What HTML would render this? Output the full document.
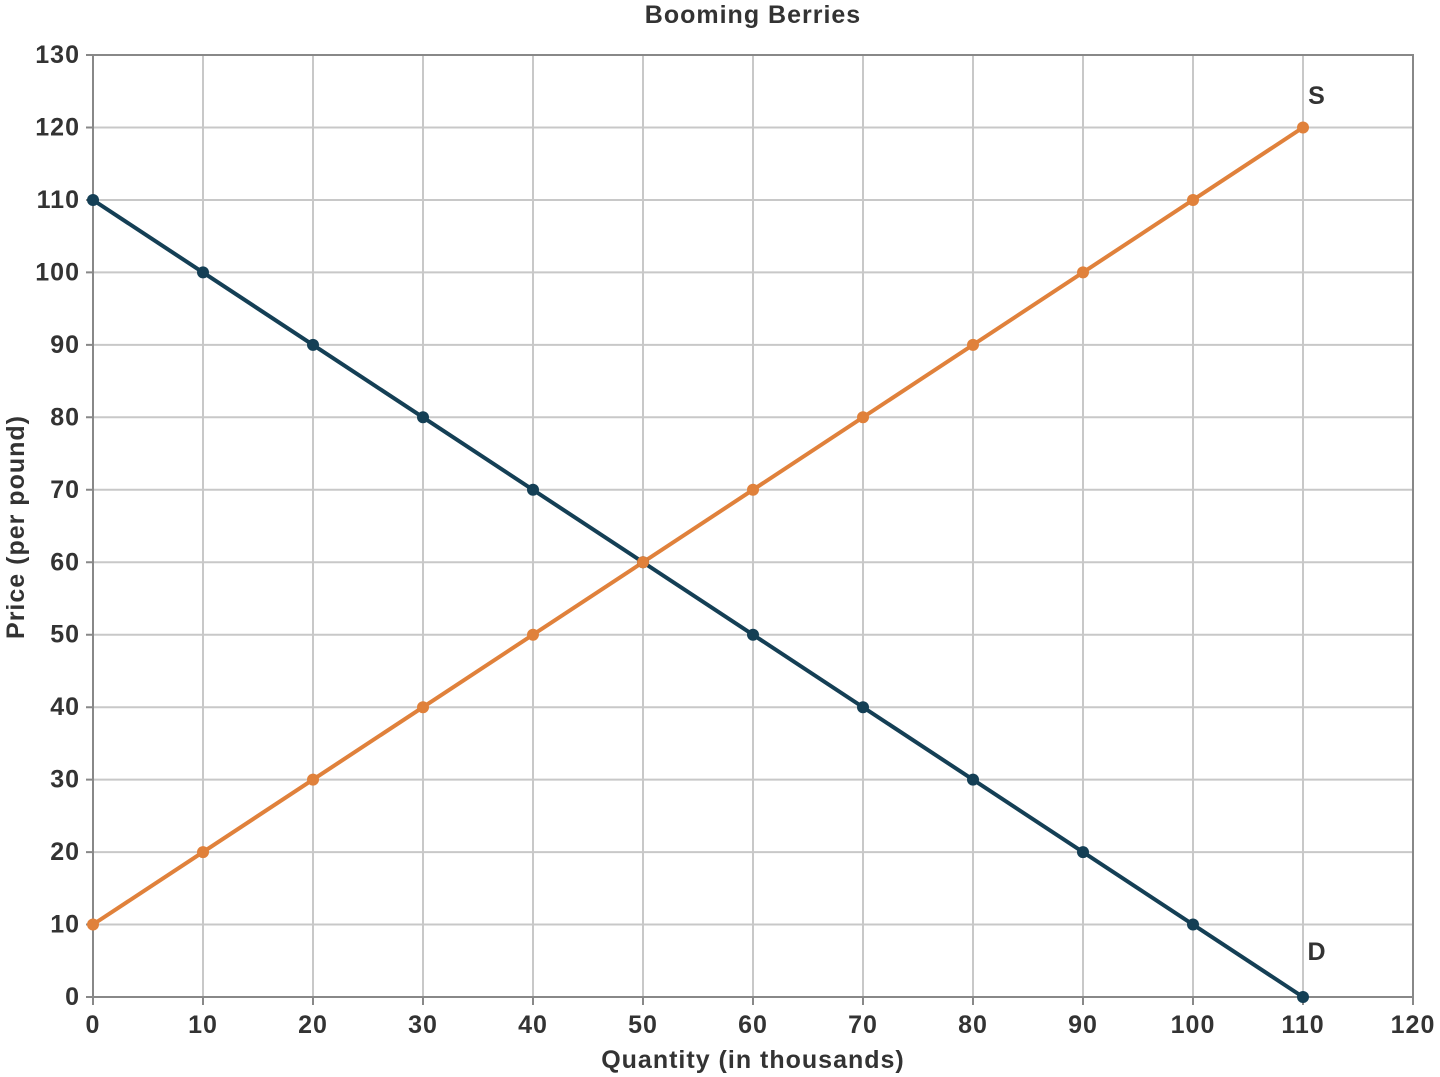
<!DOCTYPE html>
<html><head><style>body{margin:0;background:#fff}svg{display:block}text{font-family:"Liberation Sans",sans-serif;font-weight:bold;fill:#333;letter-spacing:1px}</style></head>
<body>
<svg width="1440" height="1077" viewBox="0 0 1440 1077">
<g stroke="#c8c8c8" stroke-width="2">
<line x1="203" y1="55" x2="203" y2="997"/><line x1="313" y1="55" x2="313" y2="997"/><line x1="423" y1="55" x2="423" y2="997"/><line x1="533" y1="55" x2="533" y2="997"/><line x1="643" y1="55" x2="643" y2="997"/><line x1="753" y1="55" x2="753" y2="997"/><line x1="863" y1="55" x2="863" y2="997"/><line x1="973" y1="55" x2="973" y2="997"/><line x1="1083" y1="55" x2="1083" y2="997"/><line x1="1193" y1="55" x2="1193" y2="997"/><line x1="1303" y1="55" x2="1303" y2="997"/>
<line x1="93" y1="924.5" x2="1413" y2="924.5"/><line x1="93" y1="852.1" x2="1413" y2="852.1"/><line x1="93" y1="779.6" x2="1413" y2="779.6"/><line x1="93" y1="707.2" x2="1413" y2="707.2"/><line x1="93" y1="634.7" x2="1413" y2="634.7"/><line x1="93" y1="562.3" x2="1413" y2="562.3"/><line x1="93" y1="489.8" x2="1413" y2="489.8"/><line x1="93" y1="417.3" x2="1413" y2="417.3"/><line x1="93" y1="344.9" x2="1413" y2="344.9"/><line x1="93" y1="272.4" x2="1413" y2="272.4"/><line x1="93" y1="200" x2="1413" y2="200"/><line x1="93" y1="127.5" x2="1413" y2="127.5"/>
</g>
<g stroke="#888" stroke-width="2" fill="none">
<rect x="93" y="55" width="1320" height="942"/>
<path d="M86 55H93M86 127.5H93M86 200H93M86 272.4H93M86 344.9H93M86 417.3H93M86 489.8H93M86 562.3H93M86 634.7H93M86 707.2H93M86 779.6H93M86 852.1H93M86 924.5H93M86 997H93"/>
<path d="M93 997V1005M203 997V1005M313 997V1005M423 997V1005M533 997V1005M643 997V1005M753 997V1005M863 997V1005M973 997V1005M1083 997V1005M1193 997V1005M1303 997V1005M1413 997V1005"/>
</g>
<polyline points="93,200 1303,997" stroke="#143f55" stroke-width="4" fill="none"/>
<polyline points="93,924.5 1303,127.5" stroke="#e0813b" stroke-width="4" fill="none"/>
<g fill="#143f55">
<circle cx="93" cy="200" r="6"/><circle cx="203" cy="272.4" r="6"/><circle cx="313" cy="344.9" r="6"/><circle cx="423" cy="417.3" r="6"/><circle cx="533" cy="489.8" r="6"/><circle cx="643" cy="562.3" r="6"/><circle cx="753" cy="634.7" r="6"/><circle cx="863" cy="707.2" r="6"/><circle cx="973" cy="779.6" r="6"/><circle cx="1083" cy="852.1" r="6"/><circle cx="1193" cy="924.5" r="6"/><circle cx="1303" cy="997" r="6"/>
</g>
<g fill="#e0813b">
<circle cx="93" cy="924.5" r="6"/><circle cx="203" cy="852.1" r="6"/><circle cx="313" cy="779.6" r="6"/><circle cx="423" cy="707.2" r="6"/><circle cx="533" cy="634.7" r="6"/><circle cx="643" cy="562.3" r="6"/><circle cx="753" cy="489.8" r="6"/><circle cx="863" cy="417.3" r="6"/><circle cx="973" cy="344.9" r="6"/><circle cx="1083" cy="272.4" r="6"/><circle cx="1193" cy="200" r="6"/><circle cx="1303" cy="127.5" r="6"/>
</g>
<g font-size="25" text-anchor="end">
<text x="80" y="63">130</text><text x="80" y="135.5">120</text><text x="80" y="208">110</text><text x="80" y="280.4">100</text><text x="80" y="352.9">90</text><text x="80" y="425.3">80</text><text x="80" y="497.8">70</text><text x="80" y="570.3">60</text><text x="80" y="642.7">50</text><text x="80" y="715.2">40</text><text x="80" y="787.6">30</text><text x="80" y="860.1">20</text><text x="80" y="932.5">10</text><text x="80" y="1005">0</text>
</g>
<g font-size="25" text-anchor="middle">
<text x="93" y="1033">0</text><text x="203" y="1033">10</text><text x="313" y="1033">20</text><text x="423" y="1033">30</text><text x="533" y="1033">40</text><text x="643" y="1033">50</text><text x="753" y="1033">60</text><text x="863" y="1033">70</text><text x="973" y="1033">80</text><text x="1083" y="1033">90</text><text x="1193" y="1033">100</text><text x="1303" y="1033">110</text><text x="1413" y="1033">120</text>
<text x="753" y="1068">Quantity (in thousands)</text>
<text x="753" y="23">Booming Berries</text>
<text x="0" y="0" transform="translate(24,527) rotate(-90)">Price (per pound)</text>
<text x="1317" y="104">S</text><text x="1317" y="960">D</text>
</g>
</svg>
</body></html>
